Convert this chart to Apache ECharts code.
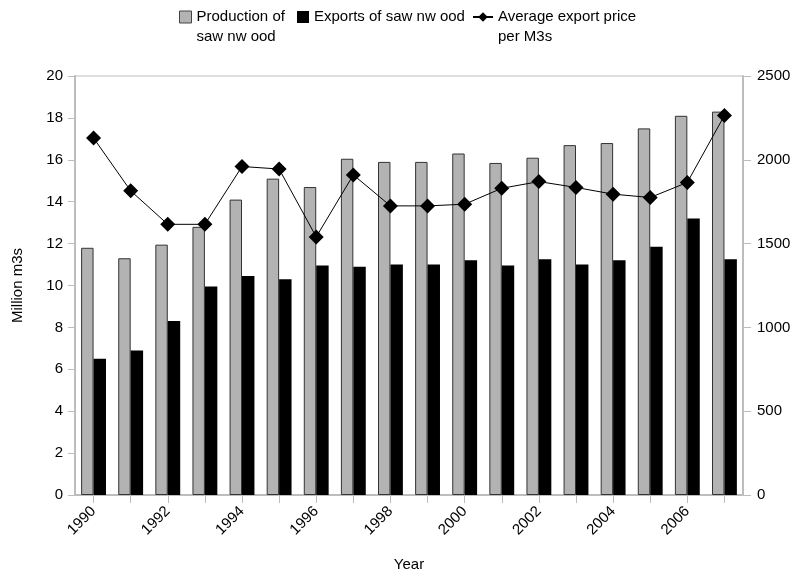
<!DOCTYPE html>
<html>
<head>
<meta charset="utf-8">
<script src="https://cdn.jsdelivr.net/npm/echarts@6/dist/echarts.min.js"></script>
<style>
  html, body { margin: 0; padding: 0; background: #fff; }
  #main { width: 794px; height: 578px; }
</style>
</head>
<body>
<div id="main"></div>
<script>
var years = ["1990", "1991", "1992", "1993", "1994", "1995", "1996", "1997", "1998",
  "1999", "2000", "2001", "2002", "2003", "2004", "2005", "2006", "2007"];
// 产量 (百万 m3)
var production = [11.8, 11.3, 11.95, 12.8, 14.1, 15.1, 14.7, 16.05, 15.9,
  15.9, 16.3, 15.85, 16.1, 16.7, 16.8, 17.5, 18.1, 18.3];
// 出口量 (百万 m3)
var exportsVol = [6.5, 6.9, 8.3, 9.95, 10.45, 10.3, 10.95, 10.9, 11.0,
  11.0, 11.2, 10.95, 11.25, 11.0, 11.2, 11.85, 13.2, 11.25];
// 平均出口价格
var price = [2130, 1815, 1615, 1615, 1960, 1945, 1540, 1910, 1725,
  1725, 1735, 1830, 1870, 1835, 1795, 1775, 1865, 2265];

var leftTicks = [0, 2, 20]; // min, interval, max
var rightTicks = [0, 500, 2500];

var nameProd = "Production of\nsaw nw ood";
var nameExp = "Exports of saw nw ood";
var namePrice = "Average export price\nper M3s";

var font = "Liberation Sans, Arial, sans-serif";
var axisGrey = "#bdbdbd";

// 两行图例: 前面加一个空行, 让图标对齐第一行
function twoLine(name) {
  return " \n" + name;
}

var chart = echarts.init(document.getElementById("main"));

var option = {
  animation: false,
  textStyle: { fontFamily: font },
  // 图例分开设置, 方便定位
  legend: [
    {
      left: 179, top: -13, padding: 0,
      itemWidth: 12, itemHeight: 12, itemGap: 0,
      formatter: twoLine,
      data: [{ name: nameProd, icon: "rect",
        itemStyle: { color: "#b3b3b3", borderColor: "#444", borderWidth: 1 } }],
      textStyle: { color: "#000", fontSize: 15, lineHeight: 20 }
    },
    {
      left: 297, top: 7, padding: 0,
      itemWidth: 12, itemHeight: 12, itemGap: 0,
      data: [{ name: nameExp, icon: "rect" }],
      textStyle: { color: "#000", fontSize: 15, lineHeight: 20 }
    },
    {
      left: 472, top: -13, padding: 0,
      itemWidth: 20, itemHeight: 12, itemGap: 0,
      formatter: twoLine,
      data: [{ name: namePrice }],
      textStyle: { color: "#000", fontSize: 15, lineHeight: 20 }
    }
  ],
  grid: {
    left: 75, right: 51, top: 76, bottom: 83,
    show: true, borderColor: axisGrey, borderWidth: 1, backgroundColor: "transparent"
  },
  xAxis: {
    type: "category",
    data: years,
    name: "Year",
    nameLocation: "middle",
    nameGap: 62,
    nameTextStyle: { color: "#000", fontSize: 15 },
    axisLine: { lineStyle: { color: axisGrey, width: 2 } },
    axisTick: { show: true, alignWithLabel: true, interval: 0, length: 8, lineStyle: { color: axisGrey } },
    axisLabel: { interval: 1, rotate: 45, color: "#000", fontSize: 15, margin: 14 }
  },
  yAxis: [
    {
      type: "value",
      min: leftTicks[0], interval: leftTicks[1], max: leftTicks[2],
      name: "Million m3s",
      nameLocation: "middle",
      nameGap: 50,
      nameRotate: 90,
      nameTextStyle: { color: "#000", fontSize: 15 },
      axisLine: { show: true, lineStyle: { color: axisGrey, width: 2 } },
      axisTick: { show: true, length: 7, lineStyle: { color: axisGrey } },
      axisLabel: { color: "#000", fontSize: 15, margin: 12 },
      splitLine: { show: false }
    },
    {
      type: "value",
      min: rightTicks[0], interval: rightTicks[1], max: rightTicks[2],
      position: "right",
      axisLine: { show: true, lineStyle: { color: axisGrey, width: 2 } },
      axisTick: { show: true, length: 8, lineStyle: { color: axisGrey } },
      axisLabel: { color: "#000", fontSize: 15, margin: 14,
        formatter: function (v) { return String(v); } },
      splitLine: { show: false }
    }
  ],
  series: [
    {
      name: nameProd,
      type: "bar",
      data: production,
      barGap: "0%",
      barCategoryGap: "33%",
      itemStyle: { color: "#b3b3b3", borderColor: "#333", borderWidth: 1 }
    },
    {
      name: nameExp,
      type: "bar",
      data: exportsVol,
      itemStyle: { color: "#000" }
    },
    {
      name: namePrice,
      type: "line",
      yAxisIndex: 1,
      data: price,
      symbol: "diamond",
      symbolSize: 15,
      z: 5,
      lineStyle: { color: "#000", width: 1 },
      itemStyle: { color: "#000" }
    }
  ]
};

chart.setOption(option);
</script>
</body>
</html>
